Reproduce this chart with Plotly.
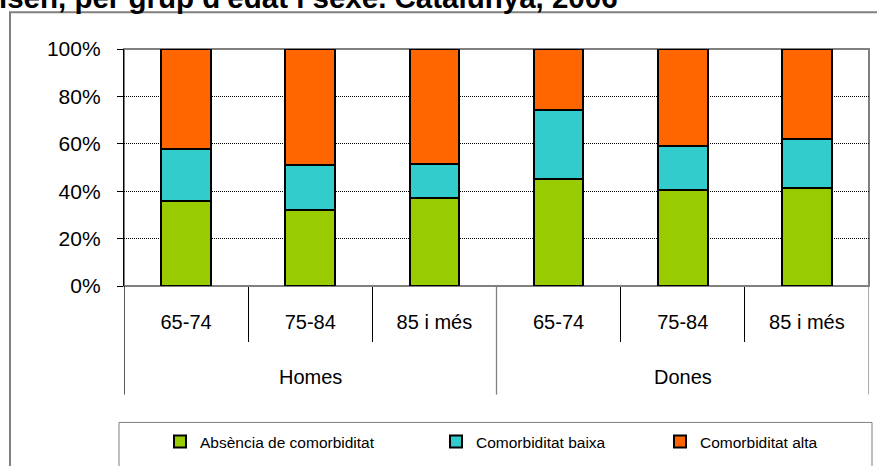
import plotly.graph_objects as go

# ---- data ----
sexes = ["Homes", "Homes", "Homes", "Dones", "Dones", "Dones"]
ages = ["65-74", "75-84", "85 i més", "65-74", "75-84", "85 i més"]
absencia = [35.8, 32.0, 37.2, 45.2, 40.4, 41.4]
baixa = [22.2, 19.1, 14.4, 29.1, 18.7, 20.8]
alta = [42.0, 48.9, 48.4, 25.7, 40.9, 37.8]
series_names = ["Absència de comorbiditat", "Comorbiditat baixa", "Comorbiditat alta"]
series_colors = ["#99CC00", "#33CCCC", "#FF6600"]
y_ticks = [0, 20, 40, 60, 80, 100]
y_ticklabels = ["0%", "20%", "40%", "60%", "80%", "100%"]
title_text = "isen, per grup d'edat i sexe. Catalunya, 2006"

FONT = "Liberation Sans, Arial, sans-serif"
W, H = 877, 466
L, R, T, B = 124, 8, 49, 179
PW, PH = W - L - R, H - T - B


def px_x(p):
    return (p - L) / PW


def px_y(p):
    return (H - B - p) / PH


legend_widths = [231, 179, 130]

xs = list(range(len(ages)))
fig = go.Figure()
for name, vals, col, lw in zip(series_names, [absencia, baixa, alta], series_colors, legend_widths):
    fig.add_trace(go.Bar(
        x=xs, y=vals, name=name, legendwidth=lw,
        marker=dict(color=col, line=dict(color="black", width=2)),
        hoverinfo="skip",
    ))

shapes = []
# plot area border
shapes.append(dict(type="rect", xref="paper", yref="paper", x0=0, x1=1, y0=0, y1=1,
                   line=dict(color="#808080", width=2), layer="below"))
# outer chart frame
shapes.append(dict(type="rect", xref="paper", yref="paper", x0=px_x(10), x1=px_x(885),
                   y0=px_y(480), y1=px_y(12), line=dict(color="#808080", width=2), layer="below"))
# legend box
shapes.append(dict(type="rect", xref="paper", yref="paper", x0=px_x(119), x1=px_x(872),
                   y0=px_y(480), y1=px_y(424), line=dict(color="#808080", width=1), layer="below"))
# group dividers
n_groups = len(set(sexes))
group_size = len(ages) // n_groups
for g in range(n_groups + 1):
    xv = g * group_size - 0.5
    shapes.append(dict(type="line", xref="x", yref="paper", x0=xv, x1=xv, y0=0, y1=px_y(396),
                       line=dict(color="black" if g == 0 else "#808080", width=1.3)))

annotations = []
for g in range(n_groups):
    annotations.append(dict(x=g * group_size + (group_size - 1) / 2, xref="x", y=px_y(378), yref="paper",
                            text=sexes[g * group_size], showarrow=False, yanchor="middle",
                            font=dict(family=FONT, size=20, color="black")))
annotations.append(dict(x=px_x(-3), xref="paper", y=px_y(16), yref="paper", xanchor="left", yanchor="bottom",
                        text="<b>" + title_text + "</b>", showarrow=False,
                        font=dict(family=FONT, size=29.5, color="black")))

minor_vals = [i + 0.5 for i in range(len(ages) - 1) if (i + 1) % group_size != 0]

fig.update_layout(
    width=W, height=H,
    margin=dict(l=L, r=R, t=T, b=B, pad=0),
    paper_bgcolor="white", plot_bgcolor="white",
    barmode="stack", bargap=0.6,
    font=dict(family=FONT, size=20, color="black"),
    shapes=shapes, annotations=annotations,
    showlegend=True,
    legend=dict(orientation="h", x=px_x(160), xanchor="left", y=px_y(442), yanchor="middle",
                font=dict(family=FONT, size=15.5, color="black"), bgcolor="rgba(0,0,0,0)",
                traceorder="normal", itemclick=False, itemdoubleclick=False),
    xaxis=dict(range=[-0.5, len(ages) - 0.5], tickvals=xs, ticktext=ages, ticks="",
               showgrid=False, zeroline=False, showline=False, ticklabelstandoff=22,
               tickfont=dict(family=FONT, size=20, color="black"),
               minor=dict(tickvals=minor_vals, ticks="outside", ticklen=55, tickcolor="black", tickwidth=1.3)),
    yaxis=dict(range=[0, 100], tickvals=y_ticks, ticktext=y_ticklabels, ticks="outside", ticklen=6,
               tickcolor="black", showline=True, linecolor="black", linewidth=1.3,
               showgrid=True, gridcolor="black", griddash="1px,1px", gridwidth=1, zeroline=False,
               ticklabelstandoff=12, tickfont=dict(family=FONT, size=21, color="black")),
)

fig.write_html("out.html")
